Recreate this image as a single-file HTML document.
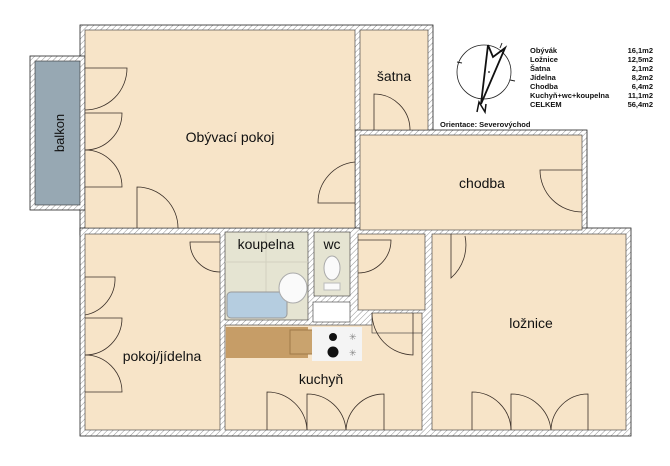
<!DOCTYPE html>
<html><head><meta charset="utf-8"><style>
html,body{margin:0;padding:0;background:#fff;}
svg{display:block;}
text{font-family:"Liberation Sans","DejaVu Sans",sans-serif;}
</style></head><body>
<svg width="670" height="466" viewBox="0 0 670 466" xmlns="http://www.w3.org/2000/svg">
<defs>
<pattern id="h" width="4" height="4" patternUnits="userSpaceOnUse" patternTransform="rotate(45)">
<rect width="4" height="4" fill="#fff"/><line x1="0" y1="0" x2="0" y2="4" stroke="#777" stroke-width="0.8"/>
</pattern>
</defs>
<rect x="80" y="25" width="353" height="210" fill="url(#h)" stroke="#222" stroke-width="0.8"/>
<rect x="355" y="130" width="232" height="105" fill="url(#h)" stroke="#222" stroke-width="0.8"/>
<rect x="80" y="228" width="551" height="208" fill="url(#h)" stroke="#222" stroke-width="0.8"/>
<rect x="30" y="56" width="55" height="154" fill="url(#h)" stroke="#222" stroke-width="0.8"/>
<g fill="#f7e4c8" stroke="#333" stroke-width="0.6">
<rect x="85" y="30" width="270" height="198"/>
<rect x="360" y="30" width="68" height="100"/>
<rect x="360" y="135" width="222" height="95"/>
<rect x="85" y="234" width="135" height="196"/>
<rect x="358" y="234" width="67" height="76"/>
<rect x="225" y="325" width="197" height="105"/>
<rect x="372" y="313" width="50" height="20"/>
<rect x="432" y="234" width="194" height="196"/>
</g>
<rect x="35" y="61" width="45" height="144" fill="#97a8b3" stroke="#333" stroke-width="0.6"/>
<text transform="translate(64,133) rotate(-90)" text-anchor="middle" font-size="13" fill="#111">balkon</text>
<rect x="225" y="232" width="83" height="88" fill="#e5e4d2" stroke="#333" stroke-width="0.6"/>
<line x1="225" y1="262" x2="308" y2="262" stroke="#d2d1c0"/>
<line x1="266" y1="232" x2="266" y2="320" stroke="#d2d1c0"/>
<rect x="227" y="292" width="60" height="26" rx="4" fill="#b5cde0" stroke="#999"/>
<ellipse cx="293" cy="288" rx="14" ry="15" fill="#fafafa" stroke="#aaa"/>
<rect x="314" y="232" width="36" height="64" fill="#e5e4d2" stroke="#333" stroke-width="0.6"/>
<ellipse cx="332" cy="268" rx="8" ry="12" fill="#fafafa" stroke="#aaa"/>
<rect x="324" y="283" width="16" height="7" fill="#fafafa" stroke="#bbb"/>
<rect x="313" y="302" width="37" height="20" fill="#fff" stroke="#333" stroke-width="0.6"/>
<rect x="226" y="327" width="82" height="31" fill="#c69d67"/>
<rect x="290" y="330" width="24" height="24" fill="#c9a36e" stroke="#a07a48"/>
<rect x="312" y="327" width="50" height="34" fill="#f4f4f4"/>
<circle cx="333" cy="337" r="4" fill="#111"/><circle cx="333" cy="352" r="5.5" fill="#111"/>
<text x="349" y="340" font-size="9" fill="#888">✳</text><text x="349" y="356" font-size="9" fill="#888">✳</text>
<g fill="none" stroke="#3a2f28" stroke-width="0.8">
<path d="M85 68 H127 A42 42 0 0 1 85 110"/>
<path d="M85 113 H122 A37 37 0 0 1 85 150"/>
<path d="M85 150 A37 37 0 0 1 122 187 H85"/>
<path d="M137 228 V187 A41 41 0 0 1 178 228"/>
<path d="M374 130 V94 A36 36 0 0 1 410 130"/>
<path d="M355 162 A41 41 0 0 0 318 203 H355"/>
<path d="M582 170 H540 A42 42 0 0 0 582 212"/>
<path d="M220 242 H190 A30 30 0 0 0 220 272"/>
<path d="M85 277 H115 A37 37 0 0 1 85 315"/>
<path d="M85 318 H122 A37 37 0 0 1 85 355"/>
<path d="M85 355 A37 37 0 0 1 122 392 H85"/>
<path d="M358 240 H391 A33 33 0 0 1 358 273"/>
<path d="M413 313 V355 A42 42 0 0 1 372 313"/>
<path d="M451 234 V278 A44 44 0 0 0 465 236"/>
<path d="M267 430 V392 A40 40 0 0 1 307 430"/>
<path d="M307 430 V394 A39 39 0 0 1 346 430"/>
<path d="M384 430 V394 A38 38 0 0 0 346 430"/>
<path d="M472 430 V392 A39 39 0 0 1 511 430"/>
<path d="M511 430 V394 A40 40 0 0 1 551 430"/>
<path d="M588 430 V394 A37 37 0 0 0 551 430"/>
</g>
<g font-size="14" fill="#111" text-anchor="middle">
<text x="230" y="142">Obývací pokoj</text>
<text x="394" y="81">šatna</text>
<text x="482" y="188">chodba</text>
<text x="266" y="249">koupelna</text>
<text x="332" y="249">wc</text>
<text x="162" y="361">pokoj/jídelna</text>
<text x="321" y="384">kuchyň</text>
<text x="531" y="328">ložnice</text>
</g>
<circle cx="484" cy="72" r="27" fill="none" stroke="#222" stroke-width="0.8"/>
<path d="M488 45 L481 104 M488 45 L493 57 L505 48 L481 104" fill="none" stroke="#111" stroke-width="1.8"/>
<circle cx="489" cy="72" r="0.9" fill="#111"/>
<path d="M477 112 L479 102 L485 112 L486 104" fill="none" stroke="#111" stroke-width="1.5"/>
<line x1="500" y1="48" x2="502" y2="43" stroke="#222"/><line x1="462" y1="63" x2="457" y2="62" stroke="#222"/><line x1="510" y1="80" x2="515" y2="81" stroke="#222"/>
<g font-size="7.5" font-weight="bold" fill="#111">
<text x="530" y="53">Obývák</text><text x="530" y="62">Ložnice</text><text x="530" y="71">Šatna</text><text x="530" y="80">Jídelna</text><text x="530" y="89">Chodba</text><text x="530" y="98">Kuchyň+wc+koupelna</text><text x="530" y="107">CELKEM</text>
</g>
<g font-size="7.5" font-weight="bold" fill="#111" text-anchor="end">
<text x="653" y="53">16,1m2</text><text x="653" y="62">12,5m2</text><text x="653" y="71">2,1m2</text><text x="653" y="80">8,2m2</text><text x="653" y="89">6,4m2</text><text x="653" y="98">11,1m2</text><text x="653" y="107">56,4m2</text>
</g>
<text x="440" y="127" font-size="7.5" font-weight="bold" fill="#111">Orientace: Severovýchod</text>
</svg>
</body></html>
